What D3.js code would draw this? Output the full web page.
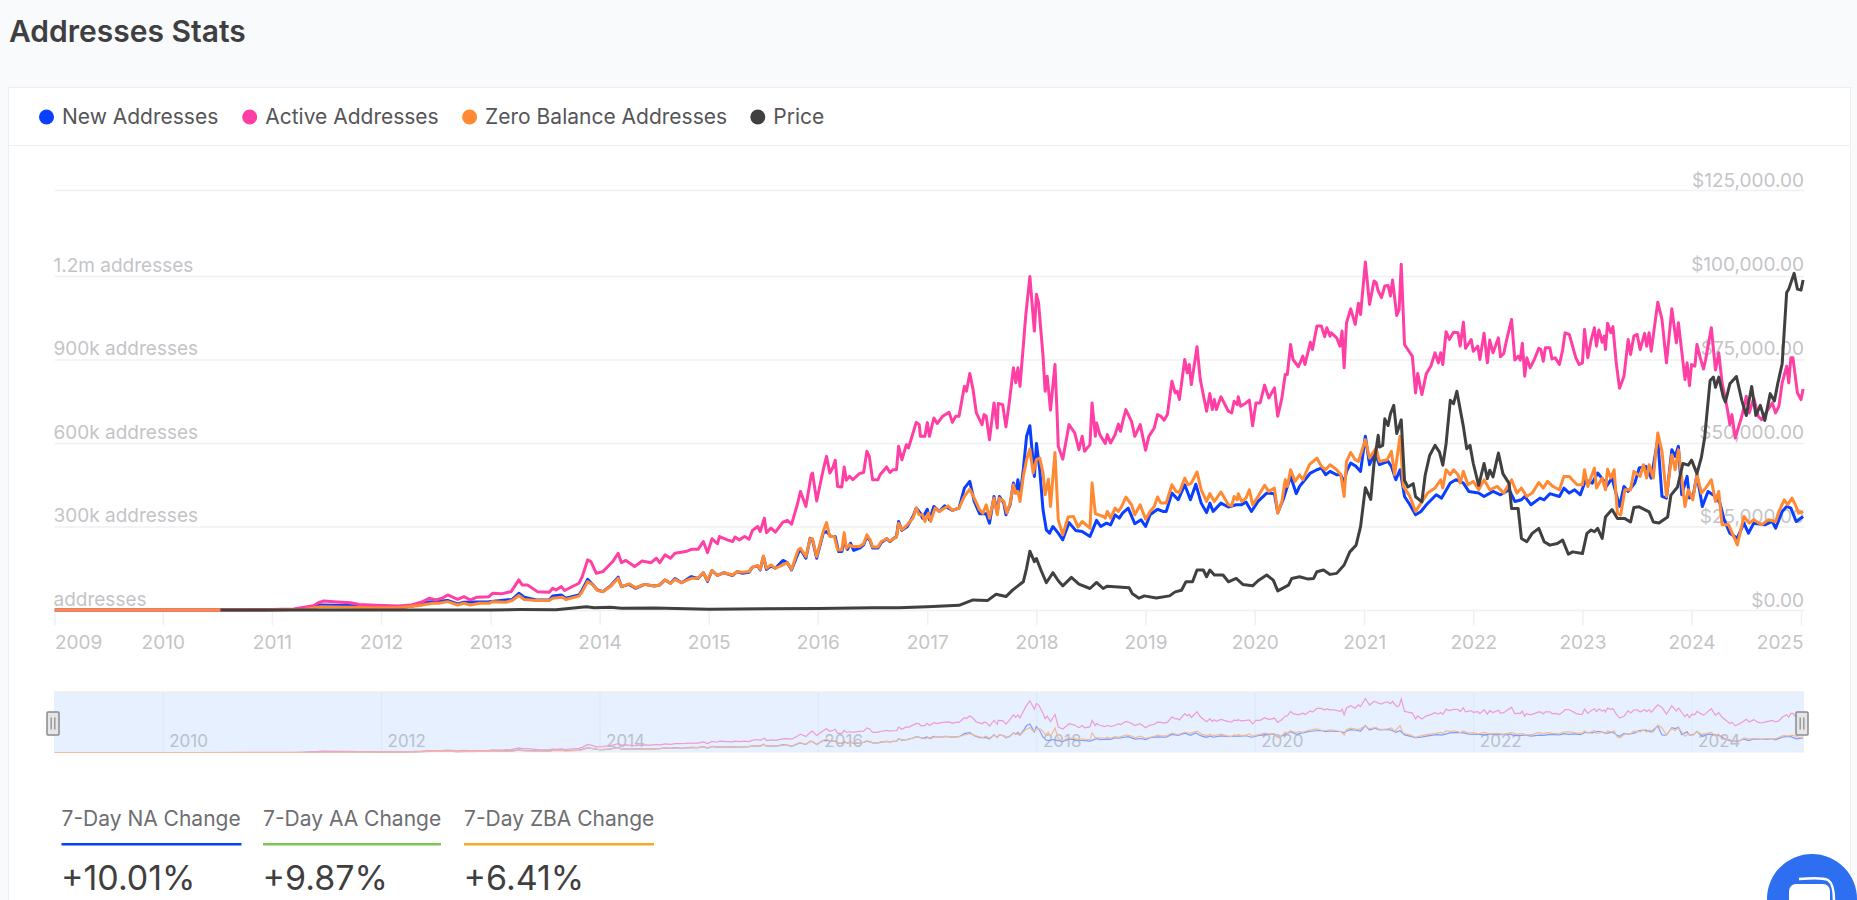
<!DOCTYPE html>
<html>
<head>
<meta charset="utf-8">
<script src="https://cdn.jsdelivr.net/npm/d3@7"></script>
<style>
  html, body { margin: 0; padding: 0; background: #f9fafc; overflow: hidden; }
  svg { display: block; font-family: Inter, sans-serif; }
  text { font-family: Inter, sans-serif; }
</style>
</head>
<body>
<svg id="chart" width="1857" height="900"></svg>
<script>
// ── Data: [decimal year, thousand addresses] ──
const activeAddresses = [
  [2009.01,0],[2010.3,0],[2010.9,1],[2011.2,4],[2011.38,15],[2011.43,27],[2011.47,32],[2011.6,29],[2011.72,26],[2011.8,20],[2011.95,17],[2012.16,14],
  [2012.28,18],[2012.38,30],[2012.44,42],[2012.5,36],[2012.56,42],[2012.61,54],[2012.7,38],[2012.76,48],[2012.82,36],[2012.88,46],[2012.99,48],
  [2013.02,60],[2013.1,58],[2013.19,66],[2013.26,108],[2013.29,90],[2013.34,90],[2013.43,66],[2013.54,64],[2013.57,78],[2013.6,72],[2013.65,84],[2013.68,70],[2013.81,96],[2013.84,120],[2013.89,180],[2013.92,174],[2013.97,132],
  [2014.03,138],[2014.06,150],[2014.12,174],[2014.17,204],[2014.2,170],[2014.24,178],[2014.32,156],[2014.39,176],[2014.47,170],[2014.52,186],[2014.55,170],[2014.6,198],[2014.65,186],[2014.69,204],[2014.79,210],[2014.84,218],[2014.9,218],[2014.95,246],[2014.99,206],
  [2015.03,256],[2015.08,238],[2015.1,264],[2015.17,252],[2015.22,246],[2015.24,262],[2015.28,252],[2015.33,264],[2015.37,254],[2015.4,286],[2015.45,300],[2015.47,282],[2015.51,330],[2015.53,278],[2015.57,294],[2015.61,280],[2015.68,316],[2015.72,322],[2015.76,308],[2015.81,378],[2015.84,426],[2015.89,372],[2015.94,486],[2015.95,492],[2015.99,392],
  [2016.05,504],[2016.08,552],[2016.11,492],[2016.14,514],[2016.16,538],[2016.18,444],[2016.22,442],[2016.24,514],[2016.26,466],[2016.29,480],[2016.32,468],[2016.38,490],[2016.42,494],[2016.45,570],[2016.47,552],[2016.5,468],[2016.55,468],[2016.57,486],[2016.63,514],[2016.66,494],[2016.69,504],[2016.72,504],[2016.74,588],[2016.77,540],[2016.81,594],[2016.83,582],[2016.9,674],[2016.93,666],[2016.94,624],[2016.98,624],
  [2017.0,674],[2017.02,624],[2017.06,690],[2017.09,670],[2017.14,696],[2017.2,710],[2017.23,674],[2017.26,696],[2017.29,696],[2017.34,804],[2017.36,786],[2017.39,850],[2017.42,792],[2017.45,708],[2017.5,666],[2017.52,702],[2017.54,696],[2017.57,612],[2017.61,744],[2017.64,654],[2017.65,742],[2017.69,738],[2017.72,658],[2017.75,744],[2017.79,870],[2017.81,816],[2017.83,870],[2017.85,804],[2017.88,948],[2017.9,1056],[2017.94,1198],[2017.98,1002],
  [2018.0,1134],[2018.02,1104],[2018.06,912],[2018.08,786],[2018.1,840],[2018.13,718],[2018.17,882],[2018.19,708],[2018.2,588],[2018.24,542],[2018.3,666],[2018.35,636],[2018.39,576],[2018.42,624],[2018.44,570],[2018.49,594],[2018.51,744],[2018.54,624],[2018.55,672],[2018.58,630],[2018.63,598],[2018.65,630],[2018.68,600],[2018.72,630],[2018.75,668],[2018.77,642],[2018.79,674],[2018.82,720],[2018.87,678],[2018.9,624],[2018.95,666],
  [2019.0,574],[2019.03,624],[2019.08,654],[2019.11,702],[2019.14,696],[2019.17,682],[2019.2,702],[2019.24,822],[2019.27,780],[2019.29,786],[2019.31,756],[2019.36,900],[2019.38,852],[2019.4,882],[2019.42,810],[2019.47,946],[2019.5,828],[2019.56,714],[2019.59,778],[2019.61,720],[2019.63,756],[2019.65,720],[2019.69,766],[2019.76,714],[2019.79,708],[2019.81,750],[2019.84,738],[2019.85,766],[2019.87,732],[2019.92,744],[2019.95,754],[2019.98,662],
  [2020.01,744],[2020.05,744],[2020.09,808],[2020.13,762],[2020.18,798],[2020.21,696],[2020.25,762],[2020.28,846],[2020.3,846],[2020.33,954],[2020.35,900],[2020.4,874],[2020.44,912],[2020.46,882],[2020.51,962],[2020.53,936],[2020.57,1020],[2020.61,1020],[2020.64,982],[2020.66,1014],[2020.69,984],[2020.7,996],[2020.75,978],[2020.78,948],[2020.8,1002],[2020.82,870],[2020.84,1032],[2020.88,1082],[2020.92,1026],[2020.95,1102],[2020.97,1062],
  [2021.01,1250],[2021.05,1098],[2021.09,1182],[2021.11,1176],[2021.13,1146],[2021.16,1122],[2021.19,1164],[2021.22,1166],[2021.24,1128],[2021.26,1186],[2021.3,1058],[2021.32,1080],[2021.34,1242],[2021.37,954],[2021.4,936],[2021.44,912],[2021.47,780],[2021.49,850],[2021.53,774],[2021.57,850],[2021.61,876],[2021.63,900],[2021.65,924],[2021.68,888],[2021.7,924],[2021.72,882],[2021.75,1000],[2021.78,972],[2021.82,998],[2021.86,996],[2021.88,948],[2021.91,1034],[2021.93,940],[2021.98,972],
  [2022.0,930],[2022.04,948],[2022.06,900],[2022.1,994],[2022.13,888],[2022.15,970],[2022.18,924],[2022.23,978],[2022.25,910],[2022.28,922],[2022.31,978],[2022.35,1044],[2022.38,898],[2022.41,912],[2022.43,898],[2022.45,958],[2022.47,840],[2022.49,906],[2022.52,870],[2022.56,900],[2022.6,940],[2022.62,936],[2022.64,894],[2022.66,942],[2022.7,942],[2022.72,902],[2022.75,906],[2022.79,882],[2022.82,936],[2022.84,996],[2022.88,990],[2022.91,948],[2022.94,906],[2022.97,882],
  [2023.0,888],[2023.02,1008],[2023.05,906],[2023.08,970],[2023.11,1014],[2023.13,948],[2023.15,1006],[2023.18,962],[2023.2,984],[2023.21,936],[2023.23,1030],[2023.26,996],[2023.28,1018],[2023.31,888],[2023.34,797],[2023.38,840],[2023.42,972],[2023.44,918],[2023.47,984],[2023.5,990],[2023.53,936],[2023.57,994],[2023.59,948],[2023.61,996],[2023.63,930],[2023.69,1106],[2023.73,1044],[2023.77,888],[2023.82,1082],[2023.86,960],[2023.88,1032],[2023.94,828],[2023.96,888],[2023.98,806],
  [2024.0,882],[2024.03,876],[2024.05,954],[2024.08,906],[2024.11,866],[2024.13,900],[2024.18,1014],[2024.22,862],[2024.25,924],[2024.28,816],[2024.33,720],[2024.35,666],[2024.37,702],[2024.4,618],[2024.46,696],[2024.5,768],[2024.53,708],[2024.57,762],[2024.61,696],[2024.64,684],[2024.69,714],[2024.74,744],[2024.77,708],[2024.8,732],[2024.83,816],[2024.87,876],[2024.89,816],[2024.91,906],[2024.93,906],[2024.97,780],[2025.0,756],[2025.02,794]
];
const newAddresses = [
  [2009.01,0],[2010.9,0],[2011.3,3],[2011.45,18],[2011.7,16],[2012.0,8],[2012.16,8],[2012.35,18],[2012.44,29],[2012.61,34],[2012.7,22],[2012.76,28],[2012.99,30],
  [2013.14,36],[2013.2,38],[2013.26,60],[2013.31,46],[2013.42,36],[2013.54,36],[2013.57,50],[2013.65,54],[2013.69,42],[2013.81,54],[2013.84,72],[2013.89,110],[2013.94,90],[2013.98,72],
  [2014.03,66],[2014.1,86],[2014.17,118],[2014.2,84],[2014.27,92],[2014.33,78],[2014.41,92],[2014.5,86],[2014.55,90],[2014.6,108],[2014.65,96],[2014.69,113],[2014.75,98],[2014.84,120],[2014.9,113],[2014.95,134],[2014.99,103],
  [2015.03,142],[2015.08,124],[2015.14,134],[2015.22,124],[2015.26,138],[2015.31,132],[2015.37,136],[2015.4,154],[2015.45,158],[2015.47,144],[2015.5,192],[2015.53,146],[2015.57,158],[2015.61,150],[2015.68,178],[2015.72,170],[2015.76,144],[2015.82,204],[2015.84,218],[2015.89,186],[2015.93,258],[2015.95,252],[2015.99,186],
  [2016.05,276],[2016.08,282],[2016.12,264],[2016.16,264],[2016.19,210],[2016.22,210],[2016.24,246],[2016.27,218],[2016.3,240],[2016.33,214],[2016.38,222],[2016.42,234],[2016.45,264],[2016.48,248],[2016.5,223],[2016.55,223],[2016.58,242],[2016.63,256],[2016.66,246],[2016.69,256],[2016.72,264],[2016.74,318],[2016.77,286],[2016.82,300],[2016.87,336],[2016.9,366],[2016.94,348],[2016.96,330],
  [2017.0,362],[2017.02,324],[2017.06,372],[2017.11,354],[2017.16,374],[2017.23,358],[2017.29,366],[2017.34,438],[2017.39,462],[2017.43,390],[2017.48,346],[2017.54,346],[2017.57,312],[2017.61,408],[2017.64,348],[2017.66,408],[2017.7,384],[2017.72,342],[2017.76,378],[2017.79,456],[2017.81,420],[2017.83,468],[2017.85,408],[2017.88,504],[2017.91,624],[2017.94,662],[2017.98,480],
  [2018.0,598],[2018.03,504],[2018.06,360],[2018.09,288],[2018.12,276],[2018.15,300],[2018.2,276],[2018.24,252],[2018.3,314],[2018.36,286],[2018.42,282],[2018.49,264],[2018.55,322],[2018.59,300],[2018.64,312],[2018.68,306],[2018.72,342],[2018.76,330],[2018.79,348],[2018.84,366],[2018.9,310],[2018.96,324],
  [2019.0,300],[2019.04,342],[2019.11,362],[2019.16,354],[2019.19,354],[2019.24,420],[2019.3,396],[2019.36,450],[2019.41,396],[2019.46,452],[2019.51,384],[2019.56,350],[2019.59,384],[2019.62,354],[2019.69,384],[2019.76,370],[2019.83,378],[2019.88,378],[2019.92,388],[2019.97,354],
  [2020.03,390],[2020.11,420],[2020.18,418],[2020.21,350],[2020.26,396],[2020.33,480],[2020.38,418],[2020.41,444],[2020.46,468],[2020.51,492],[2020.57,504],[2020.61,510],[2020.65,486],[2020.69,498],[2020.75,486],[2020.79,486],[2020.82,456],[2020.84,498],[2020.88,528],[2020.93,516],[2020.97,498],
  [2021.01,624],[2021.05,522],[2021.1,564],[2021.14,522],[2021.22,534],[2021.25,516],[2021.29,468],[2021.33,504],[2021.37,408],[2021.42,378],[2021.47,342],[2021.52,354],[2021.57,378],[2021.66,414],[2021.71,402],[2021.79,456],[2021.84,468],[2021.91,456],[2021.96,426],
  [2022.05,420],[2022.1,408],[2022.18,426],[2022.25,414],[2022.33,432],[2022.38,390],[2022.44,396],[2022.47,408],[2022.53,378],[2022.61,402],[2022.65,396],[2022.7,418],[2022.79,408],[2022.83,438],[2022.88,420],[2022.93,432],[2022.98,414],
  [2023.03,468],[2023.09,456],[2023.14,492],[2023.19,468],[2023.22,444],[2023.27,474],[2023.34,372],[2023.38,444],[2023.42,426],[2023.48,456],[2023.52,510],[2023.58,516],[2023.63,474],[2023.69,612],[2023.73,408],[2023.77,402],[2023.82,576],[2023.85,552],[2023.88,588],[2023.91,414],[2023.96,480],[2023.98,402],
  [2024.02,420],[2024.05,486],[2024.1,372],[2024.15,426],[2024.22,408],[2024.26,384],[2024.3,324],[2024.35,276],[2024.42,258],[2024.48,312],[2024.52,276],[2024.57,312],[2024.67,306],[2024.74,318],[2024.77,294],[2024.83,354],[2024.87,372],[2024.91,366],[2024.96,318],[2025.02,336]
];
const zeroBalanceAddresses = [
  [2009.01,0],[2010.9,0],[2011.3,2],[2011.45,12],[2011.7,10],[2012.0,8],[2012.16,8],[2012.35,16],[2012.47,24],[2012.53,24],[2012.61,30],[2012.7,18],[2012.76,24],[2012.82,18],[2012.9,24],[2012.99,24],
  [2013.02,30],[2013.14,28],[2013.2,34],[2013.26,52],[2013.31,38],[2013.42,34],[2013.54,34],[2013.57,42],[2013.66,46],[2013.69,38],[2013.81,50],[2013.84,66],[2013.89,102],[2013.94,90],[2013.98,70],
  [2014.03,66],[2014.1,84],[2014.17,114],[2014.2,84],[2014.27,94],[2014.33,80],[2014.41,92],[2014.5,86],[2014.55,90],[2014.6,108],[2014.65,96],[2014.69,110],[2014.75,98],[2014.84,114],[2014.9,114],[2014.95,134],[2014.99,106],
  [2015.03,142],[2015.08,124],[2015.14,134],[2015.22,126],[2015.26,138],[2015.31,136],[2015.37,138],[2015.4,154],[2015.45,160],[2015.47,146],[2015.5,194],[2015.53,150],[2015.57,162],[2015.61,150],[2015.68,162],[2015.72,170],[2015.76,146],[2015.82,216],[2015.84,222],[2015.89,192],[2015.93,256],[2015.95,256],[2015.99,192],
  [2016.05,282],[2016.08,314],[2016.11,264],[2016.15,264],[2016.18,216],[2016.22,216],[2016.24,278],[2016.26,222],[2016.29,234],[2016.32,228],[2016.38,228],[2016.42,238],[2016.45,270],[2016.48,252],[2016.5,226],[2016.55,226],[2016.58,246],[2016.63,256],[2016.66,248],[2016.69,256],[2016.72,262],[2016.74,312],[2016.77,288],[2016.82,306],[2016.87,330],[2016.9,366],[2016.93,342],[2016.96,342],[2016.98,318],
  [2017.01,348],[2017.03,318],[2017.07,366],[2017.11,354],[2017.19,374],[2017.23,358],[2017.29,366],[2017.34,408],[2017.39,434],[2017.43,402],[2017.48,360],[2017.51,348],[2017.54,378],[2017.57,330],[2017.61,402],[2017.64,342],[2017.66,402],[2017.7,390],[2017.73,348],[2017.76,384],[2017.79,450],[2017.81,420],[2017.83,426],[2017.85,390],[2017.88,480],[2017.91,540],[2017.94,578],[2017.97,492],
  [2018.0,540],[2018.03,546],[2018.06,492],[2018.08,414],[2018.11,470],[2018.13,372],[2018.17,566],[2018.2,324],[2018.24,270],[2018.29,334],[2018.34,336],[2018.38,298],[2018.42,318],[2018.49,294],[2018.51,456],[2018.54,346],[2018.61,336],[2018.63,330],[2018.65,354],[2018.68,330],[2018.72,366],[2018.75,354],[2018.78,372],[2018.82,406],[2018.87,378],[2018.9,342],[2018.95,378],
  [2019.0,326],[2019.04,354],[2019.08,372],[2019.11,406],[2019.14,384],[2019.19,384],[2019.24,450],[2019.28,426],[2019.31,422],[2019.36,474],[2019.39,450],[2019.42,456],[2019.47,496],[2019.51,432],[2019.56,390],[2019.59,418],[2019.63,390],[2019.69,424],[2019.76,378],[2019.79,374],[2019.81,408],[2019.84,396],[2019.85,418],[2019.88,390],[2019.92,402],[2019.95,432],[2019.98,378],
  [2020.03,408],[2020.09,448],[2020.13,426],[2020.18,438],[2020.21,348],[2020.25,390],[2020.28,468],[2020.3,444],[2020.33,504],[2020.37,462],[2020.41,486],[2020.44,468],[2020.5,522],[2020.57,546],[2020.61,516],[2020.65,504],[2020.69,522],[2020.75,504],[2020.79,486],[2020.82,408],[2020.84,534],[2020.88,566],[2020.92,540],[2020.95,534],
  [2021.01,612],[2021.05,546],[2021.11,582],[2021.14,534],[2021.21,540],[2021.25,570],[2021.28,486],[2021.33,624],[2021.36,444],[2021.42,408],[2021.47,354],[2021.52,384],[2021.58,420],[2021.65,438],[2021.7,468],[2021.72,438],[2021.75,504],[2021.79,486],[2021.82,504],[2021.86,486],[2021.88,456],[2021.91,498],[2021.95,450],
  [2022.0,462],[2022.05,432],[2022.1,468],[2022.15,432],[2022.22,444],[2022.28,420],[2022.35,468],[2022.4,420],[2022.44,438],[2022.49,408],[2022.54,420],[2022.6,458],[2022.64,438],[2022.68,462],[2022.73,444],[2022.79,432],[2022.83,480],[2022.88,480],[2022.95,450],
  [2023.0,450],[2023.02,504],[2023.05,444],[2023.11,510],[2023.13,438],[2023.18,474],[2023.21,432],[2023.23,506],[2023.26,474],[2023.29,504],[2023.32,348],[2023.35,342],[2023.39,432],[2023.44,432],[2023.47,498],[2023.53,480],[2023.56,522],[2023.59,474],[2023.61,522],[2023.65,474],[2023.69,636],[2023.73,570],[2023.77,408],[2023.82,558],[2023.85,504],[2023.88,576],[2023.94,372],[2023.97,432],
  [2024.01,396],[2024.05,486],[2024.09,420],[2024.13,438],[2024.18,468],[2024.22,390],[2024.25,426],[2024.28,306],[2024.34,306],[2024.42,234],[2024.48,336],[2024.53,312],[2024.57,324],[2024.64,306],[2024.7,324],[2024.77,318],[2024.8,354],[2024.85,396],[2024.88,378],[2024.92,402],[2024.95,378],[2024.98,348],[2025.02,354]
];
// [decimal year, USD]
const price = [
  [2010.53,0],[2011.45,20],[2012.0,5],[2013.0,15],[2013.27,150],[2013.6,100],[2013.88,1000],[2013.95,700],[2014.1,800],[2014.2,500],[2014.5,600],[2015.0,250],[2016.0,430],[2016.5,650],[2016.74,700],
  [2017.0,1000],[2017.29,1400],[2017.42,3000],[2017.55,2800],[2017.63,4700],[2017.72,4000],[2017.78,5900],[2017.88,8400],[2017.91,12400],[2017.94,17500],[2017.98,14400],
  [2018.0,15300],[2018.04,11900],[2018.09,8100],[2018.15,11100],[2018.2,8700],[2018.24,7200],[2018.32,9700],[2018.39,7700],[2018.49,6400],[2018.55,8200],[2018.61,6400],[2018.65,7100],[2018.85,6600],[2018.88,4800],[2018.94,3500],[2018.99,4200],
  [2019.1,3600],[2019.22,4200],[2019.27,5400],[2019.33,5900],[2019.37,8400],[2019.43,8400],[2019.47,11900],[2019.53,11900],[2019.56,9900],[2019.59,11900],[2019.63,10400],[2019.71,10400],[2019.76,8400],[2019.83,9400],[2019.89,7600],[2019.98,7200],
  [2020.03,8700],[2020.11,10400],[2020.17,8900],[2020.21,5700],[2020.31,7400],[2020.34,9400],[2020.41,9900],[2020.49,9200],[2020.54,9400],[2020.57,11400],[2020.63,11900],[2020.69,10600],[2020.75,10900],[2020.82,13400],[2020.87,17300],[2020.93,19300],[2020.97,24800],
  [2021.01,36400],[2021.06,32900],[2021.09,43600],[2021.13,52000],[2021.14,48500],[2021.17,49000],[2021.19,56900],[2021.22,54900],[2021.24,58400],[2021.27,60900],[2021.3,52500],[2021.34,56600],[2021.37,38600],[2021.4,36600],[2021.45,37600],[2021.47,33700],[2021.53,32200],[2021.56,40100],[2021.6,46000],[2021.65,49000],[2021.69,47000],[2021.72,43100],[2021.75,49500],[2021.79,62400],[2021.82,61400],[2021.85,65100],[2021.91,54500],[2021.94,48000],[2021.97,49000],
  [2022.0,43600],[2022.05,37100],[2022.1,43600],[2022.13,39100],[2022.15,41600],[2022.18,39600],[2022.23,46700],[2022.27,40600],[2022.33,37600],[2022.35,30200],[2022.41,30200],[2022.44,21300],[2022.49,20300],[2022.54,22800],[2022.6,24300],[2022.65,20300],[2022.7,19300],[2022.77,19800],[2022.82,20800],[2022.87,16600],[2022.91,17300],
  [2023.0,16800],[2023.04,22800],[2023.08,23800],[2023.11,23300],[2023.14,24300],[2023.18,21300],[2023.21,27700],[2023.27,29900],[2023.32,27200],[2023.39,27200],[2023.44,26200],[2023.47,30500],[2023.52,30700],[2023.61,29200],[2023.65,26200],[2023.7,25900],[2023.78,27700],[2023.81,34200],[2023.87,36600],[2023.92,43600],[2023.97,43100],
  [2024.0,44600],[2024.05,40600],[2024.09,45500],[2024.12,51500],[2024.17,68300],[2024.2,69300],[2024.22,66300],[2024.25,69300],[2024.29,63400],[2024.31,61900],[2024.35,67300],[2024.41,69500],[2024.46,62400],[2024.5,57900],[2024.55,66500],[2024.59,57900],[2024.63,60900],[2024.67,56400],[2024.72,64400],[2024.76,62200],[2024.79,67300],[2024.83,73300],[2024.87,94500],[2024.89,95500],[2024.94,100200],[2024.97,95500],[2025.0,95200],[2025.02,98200]
];

const legendNames = ['New Addresses', 'Active Addresses', 'Zero Balance Addresses', 'Price'];
const addressTicks = [0, 300, 600, 900, 1200];
const priceTicks = [0, 25000, 50000, 75000, 100000, 125000];
const yearTicks = d3.range(2009, 2026);
const miniYearTicks = [2010, 2012, 2014, 2016, 2018, 2020, 2022, 2024];
const statLabels = ['7-Day NA Change', '7-Day AA Change', '7-Day ZBA Change'];
const statValues = ['+10.01%', '+9.87%', '+6.41%'];

// ── Colors ──
const BLUE = '#0a3fff', PINK = '#ff3fa4', ORANGE = '#ff8a33', DARK = '#404040';
const TXT = '#555558', AXIS = '#c4c4c8', GRID = '#f0f0f2';

const yearDate = y => {
  const yr = Math.floor(y);
  return new Date(yr, 0, 1 + Math.round((y - yr) * 365));
};

const svg = d3.select('#chart');

// ── Header + card ──
svg.append('text').text('Addresses Stats')
  .attr('x', 9).attr('y', 42)
  .attr('font-size', 30).attr('font-weight', 600).attr('fill', '#3f3f42');

svg.append('rect').attr('x', 8.5).attr('y', 87.5).attr('width', 1842).attr('height', 840)
  .attr('fill', '#fff').attr('stroke', '#eeeef0');
svg.append('line').attr('x1', 9).attr('x2', 1850).attr('y1', 145.5).attr('y2', 145.5).attr('stroke', '#f0f0f2');

// ── Legend ──
const legendX = [46.5, 249.7, 469.6, 757.8];
[BLUE, PINK, ORANGE, DARK].forEach((c, i) => {
  svg.append('circle').attr('cx', legendX[i]).attr('cy', 117).attr('r', 7.5).attr('fill', c);
  svg.append('text').text(legendNames[i]).attr('x', legendX[i] + 15.5).attr('y', 124)
    .attr('font-size', 21).attr('fill', TXT);
});

// ── Scales ──
const x0 = yearDate(2009.008), x1 = yearDate(2025.027);
const x = d3.scaleTime().domain([x0, x1]).range([54.5, 1804]);
const yAddr = d3.scaleLinear().domain([0, 1200]).range([610, 276]);
const yPrice = d3.scaleLinear().domain([0, 125000]).range([610, 190]);

// ── Grid + y axes ──
const fmtAddr = d => d === 0 ? 'addresses' : (d >= 1000 ? (d / 1000) + 'm' : d + 'k') + ' addresses';
const gLeft = svg.append('g').attr('transform', 'translate(54.5,0)')
  .call(d3.axisRight(yAddr).tickValues(addressTicks).tickSize(1749.5).tickFormat(fmtAddr));
gLeft.select('.domain').remove();
gLeft.selectAll('line').attr('stroke', GRID).attr('stroke-width', 1.5);
gLeft.selectAll('text').attr('x', -1).attr('dy', -10).attr('dominant-baseline', 'middle')
  .attr('font-size', 19).attr('font-family', 'Inter').attr('fill', AXIS);

const gRight = svg.append('g').attr('transform', 'translate(1804,0)')
  .call(d3.axisLeft(yPrice).tickValues(priceTicks).tickSize(0)
    .tickFormat(d => '$' + d3.format(',.2f')(d)));
gRight.select('.domain').remove();
gRight.selectAll('text').attr('x', 0).attr('dy', -8.5).attr('dominant-baseline', 'middle')
  .attr('text-anchor', 'end').attr('font-size', 19).attr('font-family', 'Inter').attr('fill', AXIS);
// only the top price tick draws a gridline
gRight.selectAll('line').filter(d => d === 125000)
  .attr('x2', -1749.5).attr('stroke', GRID).attr('stroke-width', 1.5);

// ── X axis ──
const gX = svg.append('g').attr('transform', 'translate(0,610)')
  .call(d3.axisBottom(x)
    .tickValues(yearTicks.map(y => y === 2009 ? x0 : new Date(y, 0, 1)))
    .tickSize(15).tickPadding(11).tickFormat(d3.timeFormat('%Y')));
gX.select('.domain').remove();
gX.selectAll('line').attr('stroke', GRID).attr('stroke-width', 1.5);
gX.selectAll('text').attr('font-size', 19).attr('font-family', 'Inter').attr('fill', AXIS);
gX.selectAll('text').filter(d => d.getFullYear() === 2009).attr('text-anchor', 'start');
gX.selectAll('text').filter(d => d.getFullYear() === 2025).attr('text-anchor', 'end').attr('x', 2);

// ── Lines ──
const lineAddr = d3.line().x(d => x(yearDate(d[0]))).y(d => yAddr(d[1]));
const linePrice = d3.line().x(d => x(yearDate(d[0]))).y(d => yPrice(d[1]));
[[newAddresses, BLUE], [activeAddresses, PINK], [zeroBalanceAddresses, ORANGE]].forEach(([s, c]) => {
  svg.append('path').datum(s).attr('d', lineAddr)
    .attr('fill', 'none').attr('stroke', c).attr('stroke-width', 3).attr('stroke-linejoin', 'round');
});
svg.append('path').datum(price).attr('d', linePrice)
  .attr('fill', 'none').attr('stroke', DARK).attr('stroke-width', 3).attr('stroke-linejoin', 'round');

// ── Range slider ──
const yMini = d3.scaleLinear().domain([0, 1390]).range([752.5, 692.5]);
svg.append('rect').attr('x', 54).attr('y', 692).attr('width', 1750).attr('height', 60.5).attr('fill', '#e6f0fe');
svg.append('line').attr('x1', 54).attr('x2', 1804).attr('y1', 692).attr('y2', 692).attr('stroke', '#eeeef0').attr('stroke-width', 1.5);

const gMini = svg.append('g').attr('transform', 'translate(0,752.5)')
  .call(d3.axisBottom(x).tickValues(miniYearTicks.map(y => new Date(y, 0, 1)))
    .tickSize(-60).tickFormat(d3.timeFormat('%Y')));
gMini.select('.domain').remove();
gMini.selectAll('line').attr('stroke', '#dce8f7');
gMini.selectAll('text').attr('text-anchor', 'start').attr('x', 6).attr('y', -10)
  .attr('dy', 0).attr('dominant-baseline', 'middle')
  .attr('font-size', 17).attr('font-family', 'Inter').attr('fill', '#b9c0cb');

const lineMini = d3.line().x(d => x(yearDate(d[0]))).y(d => yMini(d[1]));
[[newAddresses, '#7c9dff'], [activeAddresses, '#ee9bd6'], [zeroBalanceAddresses, '#f2bb98']].forEach(([s, c]) => {
  svg.append('path').datum(s).attr('d', lineMini)
    .attr('fill', 'none').attr('stroke', c).attr('stroke-width', 1.2);
});

[53, 1802].forEach(cx => {
  const h = svg.append('g').attr('transform', `translate(${cx},723.5)`);
  h.append('rect').attr('x', -6).attr('y', -11.5).attr('width', 12).attr('height', 23)
    .attr('fill', '#e6e6e8').attr('stroke', '#8a8a8c').attr('stroke-width', 1.5).attr('rx', 1);
  [-1.8, 1.8].forEach(dx => h.append('line').attr('x1', dx).attr('x2', dx).attr('y1', -6).attr('y2', 6)
    .attr('stroke', '#9a9a9c').attr('stroke-width', 1.5));
});

// ── Stats row ──
const statX = [61.5, 263, 464];
const statW = [180, 178, 190];
[BLUE, '#7ac555', '#f9a825'].forEach((c, i) => {
  svg.append('text').text(statLabels[i]).attr('x', statX[i]).attr('y', 826)
    .attr('font-size', 21).attr('fill', '#6e6e72');
  svg.append('rect').attr('x', statX[i]).attr('y', 843).attr('width', statW[i]).attr('height', 2.5).attr('fill', c);
  svg.append('text').text(statValues[i]).attr('x', statX[i] - 0.5).attr('y', 889.5)
    .attr('font-size', 34).attr('fill', '#3f3f42');
});

// ── Chat button ──
svg.append('circle').attr('cx', 1812).attr('cy', 899).attr('r', 45).attr('fill', '#2e6ff2');
svg.append('path').attr('d', 'M1799,879 Q1822,877 1828,880 Q1834,884 1834,900').attr('fill', 'none').attr('stroke', '#fff').attr('stroke-width', 2.5);
svg.append('rect').attr('x', 1789).attr('y', 884).attr('width', 41).attr('height', 40).attr('rx', 7).attr('fill', '#fff');
</script>
</body>
</html>
